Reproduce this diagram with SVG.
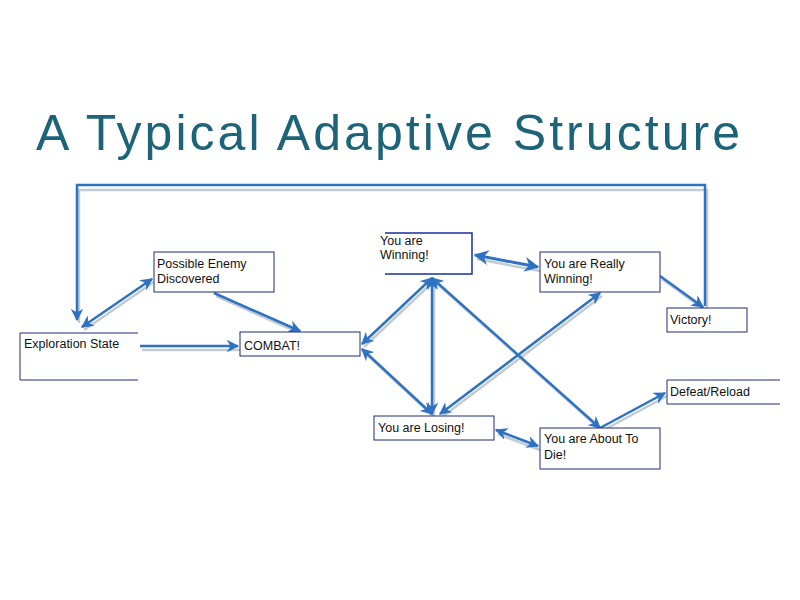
<svg xmlns="http://www.w3.org/2000/svg" width="800" height="600" viewBox="0 0 800 600">
<style>
.b{fill:#fff;stroke:#1f2a7a;stroke-width:1}
.t{font-family:"Liberation Sans",Arial,sans-serif;font-size:12.5px;fill:#111}
.c path{fill:none;stroke:#2f72c2;stroke-width:2.5;marker-end:url(#a)}
.c .d{marker-start:url(#a)}
.s path{fill:none;stroke:#9aa6b6;stroke-width:2.5;opacity:.6}
</style>
<defs>
<marker id="a" viewBox="0 0 10 10" refX="9" refY="5" markerWidth="5" markerHeight="5" orient="auto-start-reverse" markerUnits="strokeWidth">
<path d="M0,0 L10,5 L0,10 L3,5 Z" fill="#2f72c2"/>
</marker>
</defs>
<rect width="800" height="600" fill="#fff"/>
<text x="36" y="150" font-family="'Liberation Sans',Arial,sans-serif" font-size="50" fill="#1d6479" textLength="704">A Typical Adaptive Structure</text>
<g class="s" transform="translate(2,3)">
<path d="M705,306 V187 H77 V320"/>
<path d="M82,327 L152,279"/><path d="M214,293 L300,331"/><path d="M140,347 L238,347"/>
<path d="M362,344 L432,278"/><path d="M362,349 L432,414"/><path d="M432,278 V414"/>
<path d="M432,278 L600,428"/><path d="M440,414 L600,293"/><path d="M475,256 L538,268"/>
<path d="M660,276 L703,307"/><path d="M600,428 L665,393"/><path d="M496,431 L538,447"/>
</g>
<g id="connectors" class="c">
<path d="M705,306 V185 H77 V320"/>
<path class="d" d="M82,327 L152,279"/>
<path d="M214,293 L300,331"/>
<path d="M140,346 L238,346"/>
<path class="d" d="M362,344 L432,278"/>
<path class="d" d="M362,349 L432,414"/>
<path class="d" d="M432,278 V414"/>
<path class="d" d="M432,278 L600,428"/>
<path class="d" d="M440,414 L600,293"/>
<path class="d" d="M475,255 L538,267" style="stroke-width:3"/>
<path d="M660,276 L703,307"/>
<path d="M600,428 L665,393"/>
<path class="d" d="M496,430 L538,446"/>
</g>
<g id="possible"><rect class="b" x="154" y="252" width="120" height="40"/><text class="t" x="157" y="268">Possible Enemy</text><text class="t" x="157" y="283">Discovered</text></g>
<g id="exploration"><path class="b" d="M138,333 H20 V380 H138"/><text class="t" x="24" y="348">Exploration State</text></g>
<g id="combat"><rect class="b" x="240" y="332" width="120" height="24"/><text class="t" x="244" y="350">COMBAT!</text></g>
<g id="winning"><path class="b" d="M385,233 H472 V274 H385" style="stroke:#1a2fa0;stroke-width:1.5"/><text class="t" x="380" y="245">You are</text><text class="t" x="380" y="259">Winning!</text></g>
<g id="really"><rect class="b" x="540" y="252" width="120" height="40"/><text class="t" x="544" y="268">You are Really</text><text class="t" x="544" y="283">Winning!</text></g>
<g id="victory"><rect class="b" x="667" y="308" width="80" height="24"/><text class="t" x="670" y="324">Victory!</text></g>
<g id="defeat"><path class="b" d="M780,380 H667 V404 H780"/><text class="t" x="670" y="396">Defeat/Reload</text></g>
<g id="losing"><rect class="b" x="374" y="416" width="120" height="24"/><text class="t" x="378" y="432">You are Losing!</text></g>
<g id="die"><rect class="b" x="540" y="428" width="120" height="41"/><text class="t" x="544" y="443">You are About To</text><text class="t" x="544" y="459">Die!</text></g>
</svg>
